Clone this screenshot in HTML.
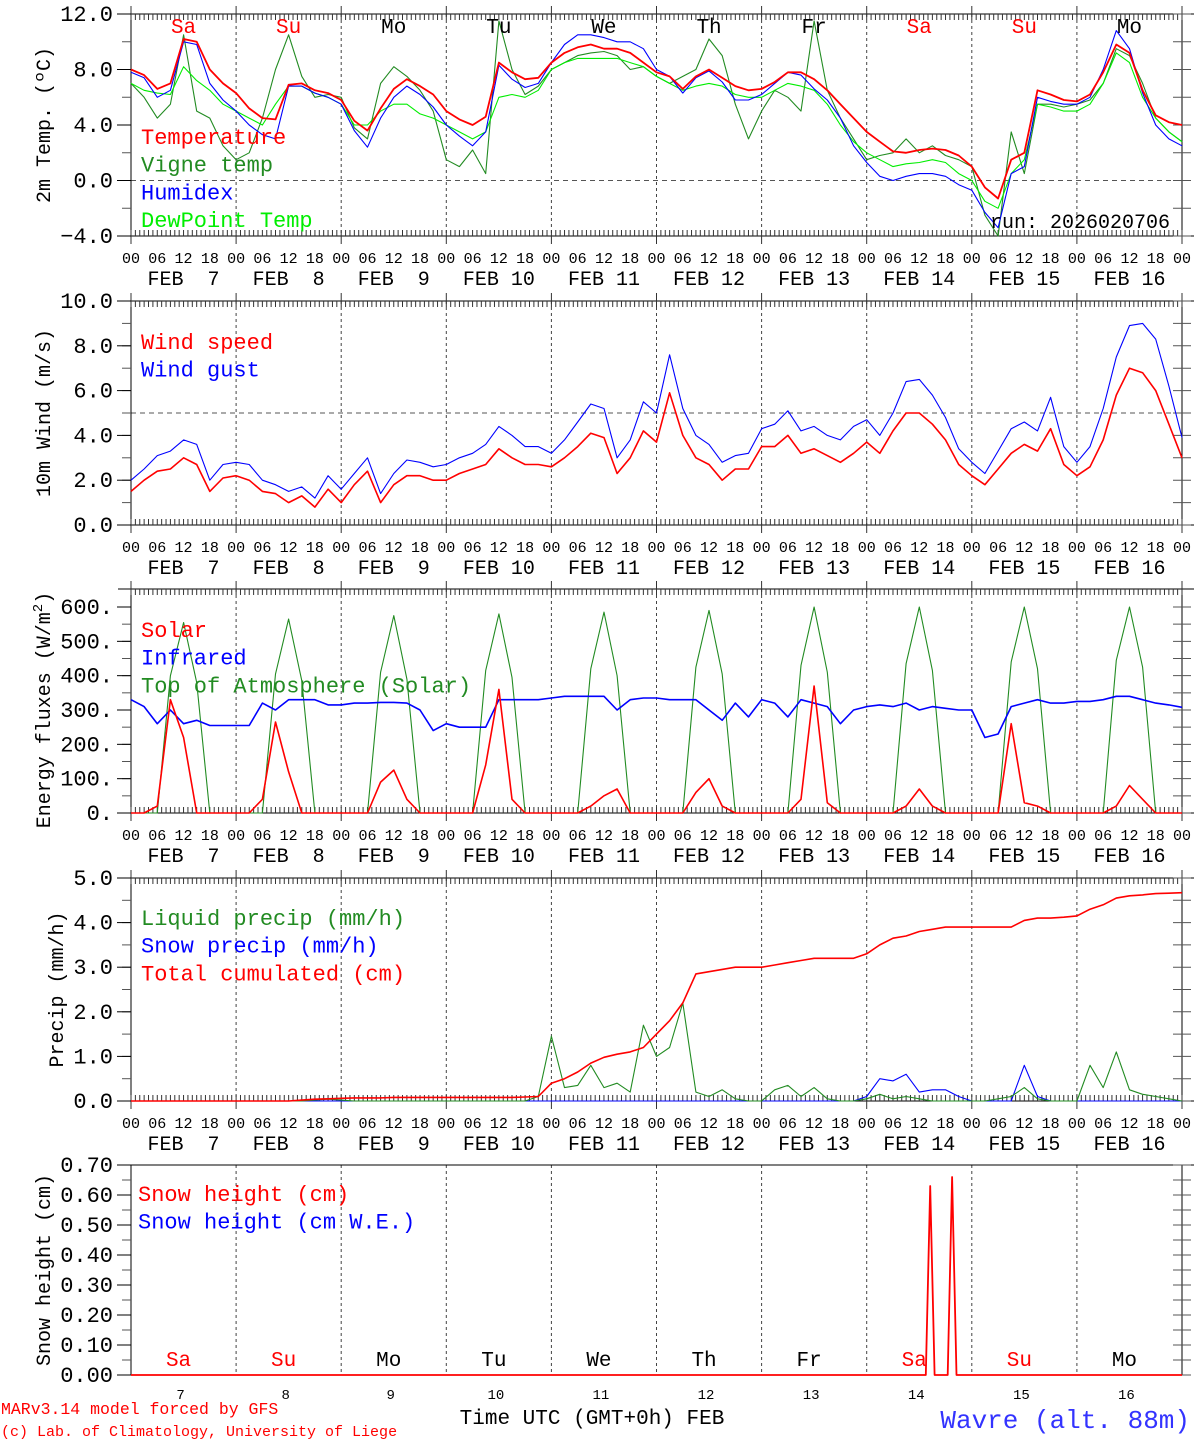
<!DOCTYPE html>
<html><head><meta charset="utf-8">
<style>
html,body{margin:0;padding:0;background:#fff;}
svg{display:block;font-family:"Liberation Mono",monospace;}
</style></head>
<body>
<svg id="chart" width="1194" height="1440" viewBox="0 0 1194 1440" xmlns="http://www.w3.org/2000/svg"></svg>
<script>
// ---- shared axis data ----
const dayNums = [7,8,9,10,11,12,13,14,15,16];
const dayNames = ["Sa","Su","Mo","Tu","We","Th","Fr","Sa","Su","Mo"];
const hourLabels = ["00","06","12","18"];
// 3-hourly values (81 points, Feb 7 00 UTC to Feb 17 00 UTC)
const temperature = [8.0,7.6,6.6,7.0,10.2,10.0,8.0,7.0, 6.3,5.2,4.5,4.4,6.9,7.0,6.5,6.3, 5.8,4.3,3.6,5.2,6.6,7.3,6.8,6.2, 5.0,4.4,4.0,4.6,8.5,7.8,7.3,7.4, 8.5,9.2,9.6,9.8,9.5,9.5,9.2,8.5, 7.8,7.5,6.6,7.5,8.0,7.4,6.8,6.5, 6.6,7.1,7.8,7.8,7.3,6.5,5.5,4.5, 3.5,2.8,2.1,2.0,2.2,2.3,2.2,1.8, 1.0,-0.5,-1.3,1.5,2.0,6.5,6.2,5.8, 5.7,6.2,7.8,9.8,9.2,6.5,4.7,4.2,4.0];
const vigneTemp = [7.0,6.0,4.5,5.5,10.5,5.0,4.5,2.5, 1.5,2.0,4.5,8.0,10.5,7.5,6.0,6.2, 6.0,3.8,3.0,7.0,8.2,7.5,6.5,5.0, 1.5,1.0,2.2,0.5,11.5,8.0,6.2,6.8, 8.0,8.5,9.0,9.2,9.3,9.0,8.0,8.2, 7.5,7.0,7.5,8.0,10.2,9.0,5.5,3.0, 5.0,6.5,6.0,5.0,11.5,6.5,4.5,3.0, 1.5,1.8,2.0,3.0,2.0,2.5,1.8,1.5, 1.0,-2.5,-4.0,3.5,0.5,5.5,5.5,5.3, 5.5,5.8,7.0,9.5,9.0,7.0,4.5,3.5,2.8];
const humidex = [7.8,7.4,6.0,6.5,10.0,9.8,7.0,5.8, 5.0,4.0,3.3,3.0,6.8,6.8,6.3,6.0, 5.5,3.6,2.4,4.5,6.0,6.8,6.2,5.3, 4.0,3.2,2.5,3.5,8.3,7.3,6.7,7.0, 8.5,9.8,10.5,10.5,10.3,10.0,10.0,9.5, 8.0,7.5,6.3,7.4,7.9,7.1,5.8,5.8, 6.2,7.0,7.8,7.6,6.6,5.8,4.5,2.5, 1.3,0.3,0.0,0.3,0.5,0.5,0.3,-0.3, -0.7,-2.3,-3.4,0.5,1.0,6.0,5.7,5.5, 5.5,6.0,8.0,10.8,9.5,6.3,4.0,3.0,2.5];
const dewPoint = [7.0,6.5,6.3,6.2,8.2,7.2,6.5,5.5, 5.0,4.5,4.0,5.5,6.8,6.8,6.3,6.0, 5.5,4.0,4.0,5.0,5.5,5.5,4.8,4.5, 4.0,3.5,3.0,3.5,6.0,6.2,6.0,6.5, 8.0,8.5,8.8,8.8,8.8,8.8,8.5,8.2, 7.5,7.0,6.5,6.8,7.0,6.8,6.2,6.0, 6.0,6.5,7.0,6.8,6.5,5.5,4.0,2.8, 2.0,1.5,1.0,1.2,1.3,1.5,1.3,0.5, 0.0,-1.5,-2.0,0.5,1.5,5.5,5.3,5.0, 5.0,5.5,7.0,9.2,8.5,6.0,4.5,3.5,2.8];
const windSpeed = [1.5,2.0,2.4,2.5,3.0,2.7,1.5,2.1, 2.2,2.0,1.5,1.4,1.0,1.3,0.8,1.6, 1.0,1.8,2.4,1.0,1.8,2.2,2.2,2.0, 2.0,2.3,2.5,2.7,3.4,3.0,2.7,2.7, 2.6,3.0,3.5,4.1,3.9,2.3,3.0,4.2, 3.7,5.9,4.0,3.0,2.7,2.0,2.5,2.5, 3.5,3.5,4.0,3.2,3.4,3.1,2.8,3.2, 3.7,3.2,4.2,5.0,5.0,4.5,3.8,2.7, 2.2,1.8,2.5,3.2,3.6,3.3,4.3,2.7, 2.2,2.6,3.8,5.8,7.0,6.8,6.0,4.5,3.0];
const windGust = [2.0,2.5,3.1,3.3,3.8,3.6,2.0,2.7, 2.8,2.7,2.0,1.8,1.5,1.7,1.2,2.2, 1.6,2.3,3.0,1.4,2.3,2.9,2.8,2.6, 2.7,3.0,3.2,3.6,4.4,4.0,3.5,3.5, 3.2,3.8,4.6,5.4,5.2,3.0,3.8,5.5, 5.0,7.6,5.2,4.0,3.6,2.8,3.1,3.2, 4.3,4.5,5.1,4.2,4.4,4.0,3.8,4.4, 4.7,4.0,5.0,6.4,6.5,5.8,4.8,3.4, 2.8,2.3,3.3,4.3,4.6,4.2,5.7,3.5, 2.8,3.5,5.2,7.5,8.9,9.0,8.3,6.2,3.9];
const solar = [0,0,20,330,220,0,0,0, 0,0,40,265,120,0,0,0, 0,0,0,90,125,40,0,0, 0,0,0,140,360,40,0,0, 0,0,0,20,50,70,0,0, 0,0,0,60,100,20,0,0, 0,0,0,40,370,30,0,0, 0,0,0,20,70,20,0,0, 0,0,0,260,30,20,0,0, 0,0,0,20,80,40,0,0,0];
const infrared = [330,310,260,300,260,270,255,255, 255,255,320,300,330,330,330,315, 315,320,320,322,322,320,300,240, 260,250,250,250,330,330,330,330, 335,340,340,340,340,300,330,335, 335,330,330,330,300,270,320,280, 330,320,280,330,320,310,260,300, 310,315,310,320,300,310,305,300, 300,220,230,310,320,330,320,320, 325,325,330,340,340,330,320,315,308];
const toaSolar = [0,0,0,400,555,380,0,0, 0,0,0,405,565,385,0,0, 0,0,0,410,575,390,0,0, 0,0,0,415,580,395,0,0, 0,0,0,420,585,400,0,0, 0,0,0,425,590,405,0,0, 0,0,0,430,600,410,0,0, 0,0,0,435,605,415,0,0, 0,0,0,440,615,420,0,0, 0,0,0,445,620,425,0,0,0];
const liquidPrecip = [0,0,0,0,0,0,0,0, 0,0,0,0,0,0,0.02,0.04, 0.02,0,0,0,0,0,0,0, 0,0,0,0,0,0,0,0.1, 1.45,0.3,0.35,0.8,0.3,0.4,0.2,1.7, 1.0,1.2,2.2,0.2,0.1,0.25,0.05,0, 0,0.25,0.35,0.1,0.3,0.05,0,0, 0.05,0.15,0.05,0.1,0.05,0,0,0, 0,0,0.05,0.1,0.3,0.05,0,0, 0,0.8,0.3,1.1,0.25,0.15,0.1,0.05,0];
const snowPrecip = [0,0,0,0,0,0,0,0, 0,0,0,0,0,0,0,0, 0,0,0,0,0,0,0,0, 0,0,0,0,0,0,0,0, 0,0,0,0,0,0,0,0, 0,0,0,0,0,0,0,0, 0,0,0,0,0,0,0,0, 0.1,0.5,0.45,0.6,0.2,0.25,0.25,0.1, 0,0,0,0,0.8,0.1,0,0, 0,0,0,0,0,0,0,0,0];
const totalCum = [0,0,0,0,0,0,0,0, 0,0,0,0,0,0.02,0.04,0.05, 0.06,0.07,0.07,0.07,0.08,0.08,0.08,0.08, 0.08,0.08,0.08,0.08,0.08,0.08,0.09,0.1, 0.4,0.5,0.65,0.85,0.98,1.05,1.1,1.2, 1.5,1.8,2.2,2.85,2.9,2.95,3.0,3.0, 3.0,3.05,3.1,3.15,3.2,3.2,3.2,3.2, 3.3,3.5,3.65,3.7,3.8,3.85,3.9,3.9, 3.9,3.9,3.9,3.9,4.05,4.1,4.1,4.12, 4.15,4.3,4.4,4.55,4.6,4.62,4.65,4.66,4.67];
// snow height: sparse events (hour since Feb 7 00 UTC, value cm)
const snowHours = [0,181.5,182.5,183.5,186.5,187.5,188.5,240];
const snowHeights = [0,0,0.63,0,0,0.66,0,0];

const NS="http://www.w3.org/2000/svg";
const svg=document.getElementById('chart');
const X0=131, X1=1182, HRS=240;
function xh(h){return X0+h*(X1-X0)/HRS;}
function el(tag,attrs,parent){const e=document.createElementNS(NS,tag);for(const k in attrs)e.setAttribute(k,attrs[k]);(parent||svg).appendChild(e);return e;}
function txt(s,x,y,attrs,parent){const t=el('text',Object.assign({x:x,y:y},attrs),parent);t.textContent=s;return t;}

function panel(cfg){
  const g=el('g',{});
  
  
  const yv=v=>cfg.yb-(v-cfg.min)*(cfg.yb-cfg.yt)/(cfg.max-cfg.min);
  for(let d=1;d<10;d++){const l=el('line',{x1:xh(d*24),x2:xh(d*24),y1:cfg.top,y2:cfg.yb,stroke:'#444','stroke-width':1,'stroke-dasharray':'3,3'},g);
    
    }
  if(cfg.hline!==undefined){const l=el('line',{x1:X0,x2:X1,y1:yv(cfg.hline),y2:yv(cfg.hline),stroke:'#555','stroke-width':1,'stroke-dasharray':'5,4'},g);
    
    }
  el('line',{x1:118,x2:1194,y1:cfg.top,y2:cfg.top,stroke:'#000','stroke-width':1},g);
  el('line',{x1:X0,x2:X0,y1:cfg.top,y2:cfg.yb,stroke:'#000','stroke-width':1},g);
  el('line',{x1:X1,x2:X1,y1:cfg.top,y2:cfg.yb,stroke:'#000','stroke-width':1},g);
  if(!cfg.noBottom){
    el('line',{x1:118,x2:1194,y1:cfg.yb,y2:cfg.yb,stroke:'#000','stroke-width':1},g);
    for(let h=0;h<=HRS;h++){const day=(h%24==0);
      el('line',{x1:xh(h),x2:xh(h),y1:cfg.top-(day?8:0),y2:cfg.top+6,stroke:'#333','stroke-width':1},g);
      el('line',{x1:xh(h),x2:xh(h),y1:cfg.yb-6,y2:cfg.yb+(day?8:0),stroke:'#333','stroke-width':1},g);}
  } else {
    el('line',{x1:X0-8,x2:X0,y1:cfg.yb,y2:cfg.yb,stroke:'#000'},g);
  }
  for(let v=cfg.min;v<=cfg.max+1e-9;v+=cfg.minor){
    el('line',{x1:X0-9,x2:X0,y1:yv(v),y2:yv(v),stroke:'#555','stroke-width':1},g);
    el('line',{x1:X1-9,x2:X1+9,y1:yv(v),y2:yv(v),stroke:'#555','stroke-width':1},g);}
  for(let v=cfg.min;v<=cfg.max+1e-9;v+=cfg.major){
    el('line',{x1:X0-14,x2:X0,y1:yv(v),y2:yv(v),stroke:'#000','stroke-width':1},g);
    const t=txt(cfg.fmt(v),113,yv(v)+7,{'font-size':22,'text-anchor':'end',fill:'#000'},g);
    
    }
  const yt=txt(cfg.ytitle,0,0,{'font-size':20,'text-anchor':'middle',fill:'#000',transform:`translate(${cfg.tx},${(cfg.yt+cfg.yb)/2}) rotate(-90)`},g);
  
  
  if(cfg.ytitleSup){const s=el('tspan',{dy:-8,'font-size':14},yt);s.textContent='2';const s2=el('tspan',{dy:8},yt);s2.textContent=')';}
  cfg.series.forEach(s=>{
    let pts;
    if(s.hours) pts=s.data.map((v,i)=>xh(s.hours[i]).toFixed(1)+','+yv(Math.max(cfg.min,Math.min(cfg.max,v))).toFixed(1));
    else pts=s.data.map((v,i)=>xh(i*3).toFixed(1)+','+yv(Math.max(cfg.min,Math.min(cfg.max,v))).toFixed(1));
    const p=el('polyline',{points:pts.join(' '),fill:'none',stroke:s.color,'stroke-width':s.w||1.2,'stroke-linejoin':'round'},g);
    
    
  });
  cfg.legend.forEach((l,i)=>{const t=txt(l[0],cfg.lx,cfg.ly+i*27.7,{'font-size':22,fill:l[1]},g);
    
    });
  if(!cfg.noBottom){
    for(let d=0;d<10;d++){for(let k=0;k<4;k++){const t=txt(hourLabels[k],xh(d*24+k*6),cfg.yb+27,{'font-size':15,'text-anchor':'middle',fill:'#000'},g);
        
        }
      const t=txt('FEB '+(dayNums[d]<10?'\u00a0':'')+dayNums[d],xh(d*24+12),cfg.yb+49,{'font-size':20,'text-anchor':'middle',fill:'#000','xml:space':'preserve'},g);
      
      }
    txt('00',xh(240),cfg.yb+27,{'font-size':15,'text-anchor':'middle',fill:'#000'},g);
  }
  return yv;
}

const red='#ff0000',blue='#0000ff',lg='#00ee00';
panel({name:'temperature-panel',top:14,yt:14,yb:236,min:-4,max:12,major:4,minor:2,fmt:v=>(v<0?'\u22124.0':v.toFixed(1)),
  ytitle:'2m Temp. (ºC)',tx:50,hline:0,lx:141,ly:144,
  series:[{id:'vigne-temp-line',data:vigneTemp,color:'#228b22',w:1.1},{id:'dewpoint-line',data:dewPoint,color:lg,w:1.1},{id:'humidex-line',data:humidex,color:blue,w:1.1},{id:'temperature-line',data:temperature,color:red,w:1.8}],
  legend:[['Temperature',red],['Vigne temp','#228b22'],['Humidex',blue],['DewPoint Temp',lg]]});
panel({name:'wind-panel',top:301,yt:301,yb:525,min:0,max:10,major:2,minor:1,fmt:v=>v.toFixed(1),
  ytitle:'10m Wind (m/s)',tx:50,hline:5,lx:141,ly:349,
  series:[{id:'wind-gust-line',data:windGust,color:blue,w:1.1},{id:'wind-speed-line',data:windSpeed,color:red,w:1.6}],
  legend:[['Wind speed',red],['Wind gust',blue]]});
panel({name:'energy-panel',top:589,yt:607,yb:813,min:0,max:600,major:100,minor:50,fmt:v=>v+'.',
  ytitle:'Energy fluxes (W/m',ytitleSup:true,tx:50,lx:141,ly:637,
  series:[{id:'toa-solar-line',data:toaSolar,color:'#228b22',w:1.1},{id:'infrared-line',data:infrared,color:blue,w:1.6},{id:'solar-line',data:solar,color:red,w:1.6}],
  legend:[['Solar',red],['Infrared',blue],['Top of Atmosphere (Solar)','#228b22']]});
panel({name:'precip-panel',top:878,yt:878,yb:1101,min:0,max:5,major:1,minor:0.5,fmt:v=>v.toFixed(1),
  ytitle:'Precip (mm/h)',tx:63,lx:141,ly:925,
  series:[{id:'snow-precip-line',data:snowPrecip,color:blue,w:1.1},{id:'liquid-precip-line',data:liquidPrecip,color:'#228b22',w:1.1},{id:'total-cumulated-line',data:totalCum,color:red,w:1.6}],
  legend:[['Liquid precip (mm/h)','#228b22'],['Snow precip (mm/h)',blue],['Total cumulated (cm)',red]]});
panel({name:'snow-height-panel',top:1165,yt:1165,yb:1375,min:0,max:0.7,major:0.1,minor:0.05,fmt:v=>v.toFixed(2),noBottom:true,
  ytitle:'Snow height (cm)',tx:50,lx:138,ly:1201,
  series:[{id:'snow-height-line',data:snowHeights,hours:snowHours,color:red,w:1.8}],
  legend:[['Snow height (cm)',red],['Snow height (cm W.E.)',blue]]});

for(let d=0;d<10;d++){
  const c=(d==0||d==1||d==7||d==8)?red:'#000';
  const a=txt(dayNames[d],xh(d*24+12),33,{'font-size':21,'text-anchor':'middle',fill:c});
  
  
  const b=txt(dayNames[d],xh(d*24+12)-5,1366,{'font-size':21,'text-anchor':'middle',fill:c});
  
  
  const n=txt(String(dayNums[d]),xh(d*24+12)-3,1399,{'font-size':14,'text-anchor':'middle',fill:'#000'});
  
  
}
const run=txt('run: 2026020706',990,228,{'font-size':20,fill:'#000'});


const xt=txt('Time UTC (GMT+0h) FEB',592,1424,{'font-size':21,'text-anchor':'middle',fill:'#000'});


const c1=txt('MARv3.14 model forced by GFS',1,1414,{'font-size':16.5,fill:red});


const c2=txt('(c) Lab. of Climatology, University of Liege',1,1436,{'font-size':15,fill:red});


const st=txt('Wavre (alt. 88m)',1190,1428,{'font-size':26,'text-anchor':'end',fill:'#3333ff'});


</script>
</body></html>
